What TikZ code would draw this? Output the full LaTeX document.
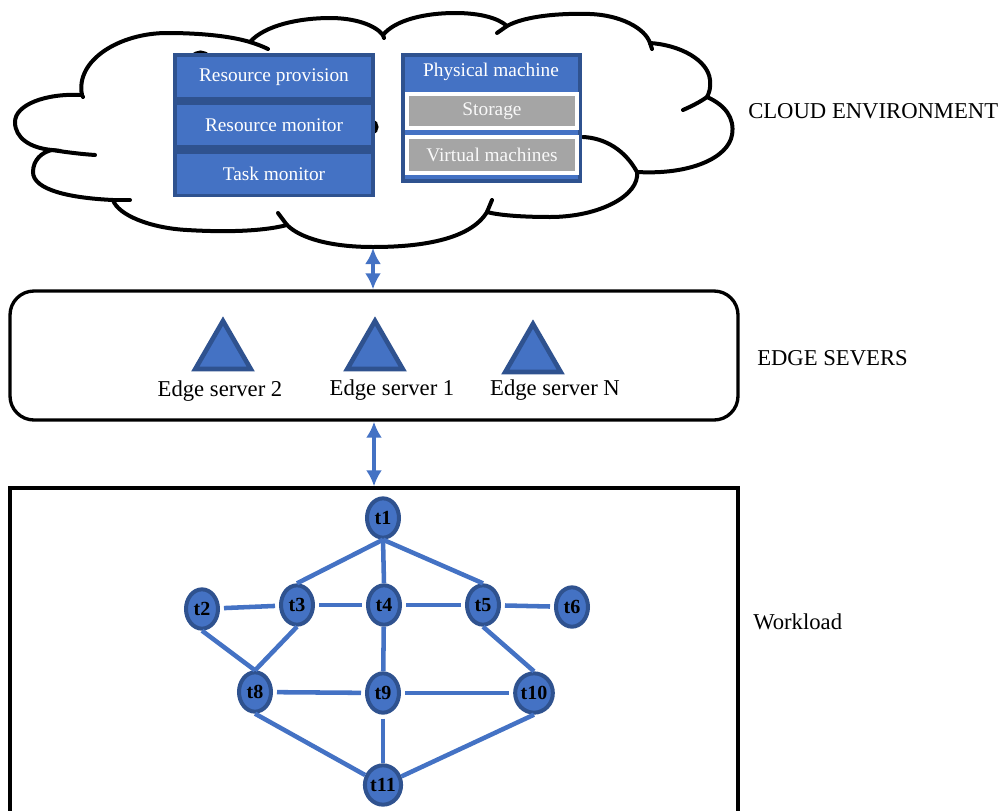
\documentclass[tikz,border=0pt]{standalone}
\usepackage{fontspec}
\setmainfont{Liberation Serif}
\usetikzlibrary{shapes.geometric,positioning,arrows.meta}

\definecolor{boxblue}{HTML}{4472C4}
\definecolor{rimblue}{HTML}{2F528F}
\definecolor{boxgray}{HTML}{A5A5A5}

\tikzstyle{cloudline} = [draw=black, line width=3pt, line cap=round]
\tikzstyle{stackbox} = [rectangle, fill=boxblue, text=white, minimum width=145.5pt, minimum height=30pt, inner sep=0pt, font=\fontsize{14.5}{16}\selectfont]
\tikzstyle{graybox} = [rectangle, fill=boxgray, draw=white, line width=3pt, text=white!95!gray, minimum width=127.5pt, minimum height=25.5pt, inner sep=0pt, font=\fontsize{14.5}{16}\selectfont]
\tikzstyle{roundbox} = [rectangle, rounded corners=18pt, draw=black, line width=2.5pt, minimum width=546pt, minimum height=96.75pt]
\tikzstyle{workbox} = [rectangle, draw=black, line width=2.5pt, minimum width=546pt, minimum height=318pt]
\tikzstyle{server} = [regular polygon, regular polygon sides=3, fill=boxblue, draw=rimblue, line width=3.5pt, minimum size=48pt, inner sep=0pt]
\tikzstyle{servertext} = [font=\fontsize{17}{19}\selectfont, inner sep=0pt]
\tikzstyle{sidetext} = [anchor=west, inner sep=0pt, font=\fontsize{17}{20}\selectfont]
\tikzstyle{task} = [ellipse, fill=boxblue, draw=rimblue, line width=3pt, minimum width=24pt, minimum height=29.5pt, inner sep=0pt, font=\bfseries\fontsize{15}{16}\selectfont]
\tikzstyle{link} = [boxblue, line width=3.4pt]
\tikzstyle{arrow} = [boxblue, line width=3pt, {Latex[length=12pt,width=12pt]}-{Latex[length=12pt,width=12pt]}]

\begin{document}
\begin{tikzpicture}[x=0.75pt, y=-0.75pt]
    \useasboundingbox (0,0) rectangle (1004,811);

    % cloud outline
    \draw [cloudline] (52,150) .. controls (30,148) and (15,138) .. (15,122)
        .. controls (15,105) and (45,93) .. (82,95)
        .. controls (75,60) and (120,33) .. (167,33)
        .. controls (200,33) and (230,36) .. (250,42)
        .. controls (265,25) and (300,18) .. (330,18)
        .. controls (355,18) and (375,25) .. (383,35)
        .. controls (395,20) and (425,13) .. (455,13)
        .. controls (480,13) and (498,18) .. (507,26)
        .. controls (525,16) and (560,13) .. (590,14)
        .. controls (620,15) and (645,28) .. (650,43)
        .. controls (680,45) and (708,60) .. (710,80)
        .. controls (711,88) and (709,93) .. (707,97)
        .. controls (725,105) and (735,118) .. (732,135)
        .. controls (728,158) and (690,175) .. (637,172)
        .. controls (640,195) and (600,217) .. (550,217)
        .. controls (520,217) and (498,215) .. (487,212)
        .. controls (470,240) and (420,247) .. (373,247)
        .. controls (330,247) and (300,238) .. (287,225)
        .. controls (260,232) and (220,232) .. (187,230)
        .. controls (150,228) and (118,215) .. (113,200)
        .. controls (70,198) and (33,190) .. (33,172)
        .. controls (33,160) and (42,152) .. (52,150) -- cycle;
    \draw [cloudline] (52,150) .. controls (65,152) and (80,154) .. (95,155);
    \draw [cloudline] (82,95) -- (83,97);
    \draw [cloudline] (250,42) .. controls (256,44) and (262,46) .. (268,49);
    \draw [cloudline] (383,35) -- (384,38);
    \draw [cloudline] (507,26) -- (497,33);
    \draw [cloudline] (650,43) -- (652,49);
    \draw [cloudline] (707,97) .. controls (700,102) and (692,106) .. (683,110);
    \draw [cloudline] (637,172) .. controls (625,150) and (605,138) .. (583,137);
    \draw [cloudline] (487,212) -- (492,200);
    \draw [cloudline] (287,225) -- (278,213);
    \draw [cloudline] (113,200) -- (130,200);
    \draw [cloudline] (192,57) .. controls (196,51) and (205,51) .. (209,57);
    \draw [cloudline] (372,121) .. controls (378,123) and (378,131) .. (372,133);

    % cloud layer
    \fill [rimblue] (173,53) rectangle (375,197);
    \node (prov) [stackbox] at (274,77) {Resource provision};
    \node (rmon) [stackbox, below=5.8pt of prov] {Resource monitor};
    \node (tmon) [stackbox, below=5.8pt of rmon] {Task monitor};
    \fill [rimblue] (401,53) rectangle (582,183);
    \fill [boxblue] (405,57) rectangle (578,179);
    \node (phys) [text=white, font=\fontsize{14.5}{16}\selectfont] at (491,72) {Physical machine};
    \node (stor) [graybox] at (492,111) {Storage};
    \node (vm) [graybox, minimum height=26.5pt] at (492,155) {Virtual machines};
    \node (cloudtxt) [sidetext] at (748,111) {CLOUD ENVIRONMENT};

    % edge layer
    \node (edge) [roundbox] at (374,355.5) {};
    \node (srv2) [server] at (223,353) {};
    \node (srv1) [server] at (375,353) {};
    \node (srvN) [server] at (533,356) {};
    \node (lab2) [servertext] at (220,391) {Edge server 2};
    \node (lab1) [servertext] at (392,390) {Edge server 1};
    \node (labN) [servertext] at (555,390) {Edge server N};
    \node (edgetxt) [sidetext] at (757,358) {EDGE SEVERS};

    % workload layer
    \node (work) [workbox] at (374,700) {};
    \node (worktxt) [sidetext] at (753,622) {Workload};

    \coordinate (cloudfoot) at (373,248);
    \draw [arrow] (cloudfoot) -- (cloudfoot |- edge.north);
    \draw [arrow] (edge.south) -- (work.north);

    % tasks
    \node (t1) [task] at (383,518) {t1};
    \node (t2) [task] at (202,609) {t2};
    \node (t3) [task] at (297,605) {t3};
    \node (t4) [task] at (384,605) {t4};
    \node (t5) [task] at (483,605) {t5};
    \node (t6) [task] at (572,607) {t6};
    \node (t8) [task] at (255,692) {t8};
    \node (t9) [task] at (383,693) {t9};
    \node (t10) [task] at (534,693) {t10};
    \node (t11) [task] at (383,785) {t11};

    \draw [link] (t1.south) -- (t3.north);
    \draw [link] (t1.south) -- (t4.north);
    \draw [link] (t1.south) -- (t5.north);
    \draw [link, shorten <=3pt, shorten >=3pt] (t2) -- (t3);
    \draw [link, shorten <=3pt, shorten >=3pt] (t3) -- (t4);
    \draw [link, shorten <=3pt, shorten >=3pt] (t4) -- (t5);
    \draw [link, shorten <=3pt, shorten >=3pt] (t5) -- (t6);
    \draw [link] (t2.south) -- (t8.north);
    \draw [link] (t3.south) -- (t8.north);
    \draw [link] (t4) -- (t9);
    \draw [link] (t5.south) -- (t10.north);
    \draw [link, shorten <=3pt, shorten >=3pt] (t8) -- (t9);
    \draw [link, shorten <=3pt, shorten >=3pt] (t9) -- (t10);
    \draw [link] (t8.south) -- (t11);
    \draw [link, shorten <=3pt] (t9) -- (t11);
    \draw [link] (t10.south) -- (t11);
\end{tikzpicture}
\end{document}
